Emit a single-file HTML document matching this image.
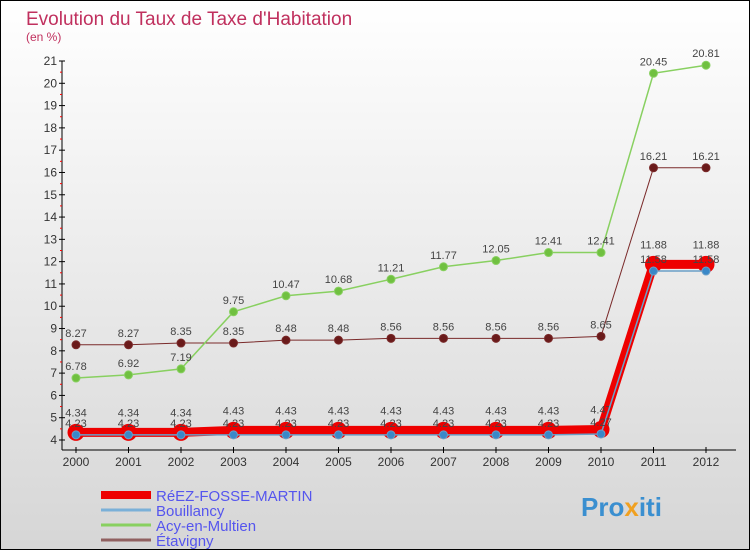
<!DOCTYPE html>
<html><head><meta charset="utf-8"><style>
html,body{margin:0;padding:0}
body{width:750px;height:550px;overflow:hidden;font-family:"Liberation Sans","DejaVu Sans",sans-serif}
#chart{position:absolute;left:0;top:0;width:748px;height:548px;border:1px solid #000;background:linear-gradient(#ffffff,#d6d6d6)}
</style></head><body>
<div id="chart">
<svg id="svg" width="748" height="548" xmlns="http://www.w3.org/2000/svg">
<text x="25" y="24" font-size="19" fill="#c0305e">Evolution du Taux de Taxe d'Habitation</text>
<text x="25" y="40" font-size="12" fill="#c0305e">(en %)</text>
<g id="axes"></g><g id="series"></g><g id="legend"></g>
<text x="580" y="515" font-size="26" font-weight="bold" fill="#3a8fd0">Pro<tspan fill="#f0a020">x</tspan>iti</text>
</svg></div>
<script>
const years=[2000,2001,2002,2003,2004,2005,2006,2007,2008,2009,2010,2011,2012];
const reez=[4.34,4.34,4.34,4.43,4.43,4.43,4.43,4.43,4.43,4.43,4.47,11.88,11.88];
const bouil=[4.23,4.23,4.23,4.23,4.23,4.23,4.23,4.23,4.23,4.23,4.27,11.58,11.58];
const acy=[6.78,6.92,7.19,9.75,10.47,10.68,11.21,11.77,12.05,12.41,12.41,20.45,20.81];
const etav=[8.27,8.27,8.35,8.35,8.48,8.48,8.56,8.56,8.56,8.56,8.65,16.21,16.21];
const yTicks=[4,5,6,7,8,9,10,11,12,13,14,15,16,17,18,19,20,21];
const NS="http://www.w3.org/2000/svg";
const xs=i=>75+i*52.5;
const ys=v=>439-(v-4)*(379/17);
function mk(t,a,p){const e=document.createElementNS(NS,t);for(const k in a)e.setAttribute(k,a[k]);p.appendChild(e);return e;}
const ax=document.getElementById('axes');
let l=mk('line',{x1:61,y1:60,x2:61,y2:449,stroke:'#000'},ax);

l=mk('line',{x1:61,y1:449,x2:735,y2:449,stroke:'#000'},ax);

yTicks.forEach(v=>{mk('line',{x1:58,x2:64,y1:ys(v),y2:ys(v),stroke:'#000'},ax);
 if(v<21)mk('line',{x1:59,x2:61,y1:ys(v+0.5),y2:ys(v+0.5),stroke:'#f00'},ax);
 const t=mk('text',{x:56,y:ys(v)+4,'font-size':12,'text-anchor':'end',fill:'#333'},ax);t.textContent=v;
 });
years.forEach((y,i)=>{mk('line',{x1:xs(i),x2:xs(i),y1:446,y2:452,stroke:'#000'},ax);
 const t=mk('text',{x:xs(i),y:465,'font-size':12,'text-anchor':'middle',fill:'#333'},ax);t.textContent=y;
 });
const sg=document.getElementById('series');
function series(d,col,w,r,dot,name,lblDy){
 const g=mk('g',{},sg);
 mk('polyline',{points:d.map((v,i)=>xs(i)+','+ys(v)).join(' '),fill:'none',stroke:col,'stroke-width':w},g);
 d.forEach((v,i)=>{const c=mk('circle',{cx:xs(i),cy:ys(v),r:r,fill:dot,stroke:col,'stroke-width':1},g);
  
  const t=mk('text',{x:xs(i),y:ys(v)+lblDy,'font-size':11,'text-anchor':'middle',fill:'#444'},g);t.textContent=v;
  });
}
series(etav,'#7a2a2a',1,4,'#6a1a1a','etavigny-series',-8);
series(acy,'#88d060',1.5,4,'#70c040','acy-series',-8);
series(reez,'#ee0000',9,8,'#ee0000','reez-series',-16);
series(bouil,'#6aa0c8',1.5,4,'#3a88c8','bouillancy-series',-8);
const lg=document.getElementById('legend');
[['RéEZ-FOSSE-MARTIN','#ee0000',8],['Bouillancy','#7ab0d8',3],['Acy-en-Multien','#88d060',3],['Étavigny','#906060',3]].forEach((e,i)=>{
 const y=494+i*15;const g=mk('g',{},lg);
 mk('line',{x1:100,x2:150,y1:y,y2:y,stroke:e[1],'stroke-width':e[2]},g);
 const t=mk('text',{x:155,y:y+6,'font-size':15,fill:'#5555ee'},g);t.textContent=e[0];});
</script></body></html>
